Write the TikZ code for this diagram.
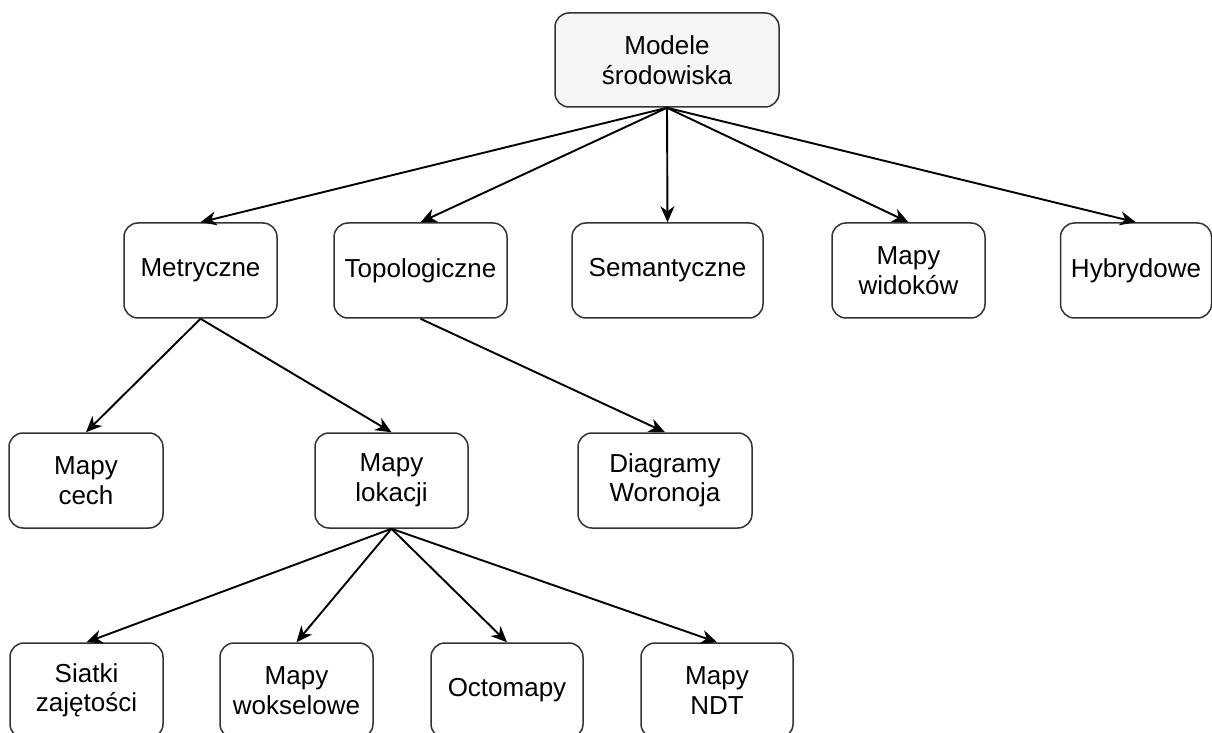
\documentclass[tikz,border=0pt]{standalone}
\usepackage{fontspec}
\setmainfont{Liberation Sans}
\usetikzlibrary{arrows.meta}
\definecolor{boxline}{HTML}{333333}
\definecolor{rootfill}{HTML}{F5F5F5}
\begin{document}
\begin{tikzpicture}[x=0.5pt,y=-0.5pt,
  box/.style={draw=boxline, line width=0.75pt, rounded corners=7pt, fill=white,
    align=center, inner sep=0pt, minimum height=47.5pt,
    font=\fontsize{13}{14.75}\selectfont},
  link/.style={line width=0.95pt, -{Stealth[length=8pt,width=7pt,inset=2.5pt]}}
]
\clip (0,0) rectangle (1212,733);
\fill[white] (0,0) rectangle (1212,733);

% root
\node[box, fill=rootfill, minimum width=112pt, minimum height=47pt] (root) at (667,60) {Modele\\środowiska};

% second level
\node[box, minimum width=76.5pt] (met) at (200.5,270.5) {Metryczne};
\node[box, minimum width=86.5pt] (top) at (420.5,270.5) {Topologiczne};
\node[box, minimum width=95.5pt] (sem) at (667.5,270.5) {Semantyczne};
\node[box, minimum width=76.5pt] (wid) at (908.5,270.5) {Mapy\\widoków};
\node[box, minimum width=75.5pt] (hyb) at (1136,270.5) {Hybrydowe};

% third level
\node[box, minimum width=77pt] (cech) at (86,480.5) {Mapy\\cech};
\node[box, minimum width=76.5pt] (lok) at (391.5,480.5) {Mapy\\lokacji};
\node[box, minimum width=87pt] (wor) at (665,480.5) {Diagramy\\Woronoja};

% fourth level
\node[box, minimum width=76.5pt] (siat) at (86.5,690.5) {Siatki\\zajętości};
\node[box, minimum width=76.5pt] (woks) at (296.5,690.5) {Mapy\\wokselowe};
\node[box, minimum width=76pt] (octo) at (507,690.5) {Octomapy};
\node[box, minimum width=76pt] (ndt) at (717,690.5) {Mapy\\NDT};

% connectors
\foreach \c in {met,top,sem,wid,hyb}
  \draw[link] (root.south) -- (\c.north);
\draw[link] (met.south) -- (cech.north);
\draw[link] (met.south) -- (lok.north);
\draw[link] (top.south) -- (wor.north);
\foreach \c in {siat,woks,octo,ndt}
  \draw[link] (lok.south) -- (\c.north);
\end{tikzpicture}
\end{document}
